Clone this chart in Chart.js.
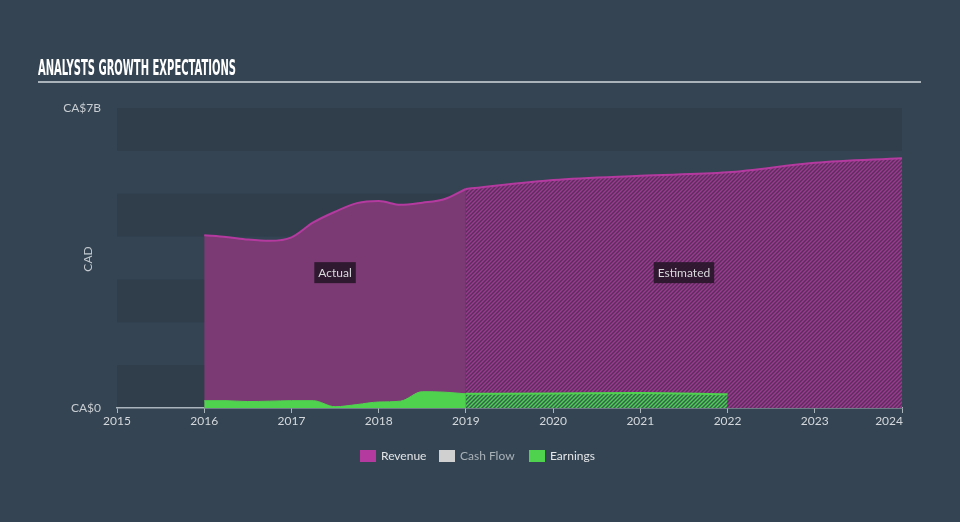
<!DOCTYPE html>
<html>
<head>
<meta charset="utf-8">
<script src="https://cdn.jsdelivr.net/npm/chart.js@4.4.0/dist/chart.umd.min.js"></script>
<style>
  html, body { margin: 0; padding: 0; background: #344452; }
  #wrap { position: relative; width: 960px; height: 522px; }
</style>
</head>
<body>
<div id="wrap"><canvas id="c"></canvas></div>
<script>
// values in CA$ billions
const revActualYears = [2016, 2016.25, 2016.5, 2016.75, 2017, 2017.25, 2017.5, 2017.75, 2018, 2018.25, 2018.5, 2018.75, 2019];
const revActual      = [4.03, 3.99, 3.93, 3.90, 3.98, 4.33, 4.58, 4.78, 4.83, 4.74, 4.79, 4.87, 5.11];
const revEstYears    = [2019, 2020, 2021, 2022, 2023, 2024];
const revEst         = [5.11, 5.32, 5.42, 5.50, 5.72, 5.83];

const earnActualYears = [2016, 2016.25, 2016.5, 2016.75, 2017, 2017.25, 2017.5, 2017.75, 2018, 2018.25, 2018.5, 2018.75, 2019];
const earnActual      = [0.17, 0.17, 0.15, 0.16, 0.17, 0.17, 0.03, 0.08, 0.14, 0.16, 0.38, 0.37, 0.33];
const earnEstYears    = [2019, 2020, 2021, 2022];
const earnEst         = [0.33, 0.34, 0.35, 0.32];

const cashFlow = [];

const xTicks = [2015, 2016, 2017, 2018, 2019, 2020, 2021, 2022, 2023, 2024];

const BG = '#344452';
const BAND = '#303e4c';
const REV_LINE = '#b43aa0';
const REV_FILL = '#7b3a73';
const EARN = '#4fd34f';
const FONT = 'Lato, "Open Sans", sans-serif';

function pts(xs, ys) { return xs.map((x, i) => ({ x: x, y: ys[i] })); }

// diagonal hatch used for the estimated part
function hatch(base, stripe) {
  const c = document.createElement('canvas');
  c.width = 4; c.height = 4;
  const g = c.getContext('2d');
  g.fillStyle = base; g.fillRect(0, 0, 4, 4);
  g.strokeStyle = stripe; g.lineWidth = 1.4;
  g.beginPath();
  g.moveTo(0, 4); g.lineTo(4, 0);
  g.moveTo(-1, 1); g.lineTo(1, -1);
  g.moveTo(3, 5); g.lineTo(5, 3);
  g.stroke();
  return g.createPattern(c, 'repeat');
}
const ctx0 = document.getElementById('c').getContext('2d');
const revHatch = hatch('#5c2e5d', '#9a3b8f');
const earnHatch = hatch('#35634a', '#4fcf55');

const decor = {
  id: 'decor',
  beforeDraw(chart) {
    const { ctx, chartArea: a, scales: { y } } = chart;
    ctx.save();
    ctx.fillStyle = BG;
    ctx.fillRect(0, 0, chart.width, chart.height);
    ctx.fillStyle = BAND;
    for (let v = 0; v < 7; v += 2) {
      const t = y.getPixelForValue(v + 1), b = y.getPixelForValue(v);
      ctx.fillRect(a.left, t, a.right - a.left, b - t);
    }
    ctx.restore();
  },
  afterDatasetsDraw(chart) {
    const { ctx, scales: { x, y } } = chart;
    ctx.save();
    ctx.font = '12px ' + FONT;
    ctx.textAlign = 'center';
    ctx.textBaseline = 'middle';
    [['Actual', 2017.5], ['Estimated', 2021.5]].forEach(([t, yr]) => {
      const cx = x.getPixelForValue(yr), cy = y.getPixelForValue(3.17);
      const w = ctx.measureText(t).width + 8;
      ctx.fillStyle = 'rgba(34,20,36,0.85)';
      ctx.fillRect(cx - w / 2, cy - 10, w, 21);
      ctx.fillStyle = '#d9d9dc';
      ctx.fillText(t, cx, cy + 1);
    });
    ctx.restore();
  },
  afterDraw(chart) {
    const ctx = chart.ctx;
    const x = chart.scales.x;
    ctx.save();
    // title
    ctx.font = 'bold 21px "DejaVu Sans Condensed", "DejaVu Sans"';
    const title = 'ANALYSTS GROWTH EXPECTATIONS';
    const tw = ctx.measureText(title).width;
    ctx.fillStyle = '#ffffff';
    ctx.textBaseline = 'alphabetic';
    ctx.translate(38, 75);
    ctx.scale(198 / tw, 1);
    ctx.fillText(title, 0, 0);
    ctx.restore();

    ctx.save();
    ctx.strokeStyle = '#aab2ba';
    ctx.lineWidth = 2;
    ctx.beginPath();
    ctx.moveTo(38, 82); ctx.lineTo(921, 82);
    ctx.stroke();

    // x tick labels, last one kept inside the axis
    ctx.font = '12px ' + FONT;
    ctx.fillStyle = '#d4d8dc';
    ctx.textBaseline = 'top';
    xTicks.forEach((v, i) => {
      ctx.textAlign = i === xTicks.length - 1 ? 'right' : 'center';
      ctx.fillText(String(v), x.getPixelForValue(v) + (i === xTicks.length - 1 ? 1 : 0), 415);
    });

    // y axis title
    ctx.translate(88, 259);
    ctx.rotate(-Math.PI / 2);
    ctx.fillStyle = '#c3c9cf';
    ctx.textAlign = 'center';
    ctx.textBaseline = 'middle';
    ctx.fillText('CAD', 0, 0);
    ctx.restore();

    // legend
    ctx.save();
    ctx.font = '12px ' + FONT;
    ctx.textBaseline = 'middle';
    const items = [
      ['Revenue', REV_LINE, '#e4e6e8', 360],
      ['Cash Flow', '#d0d0d0', '#a9b1b8', 439],
      ['Earnings', EARN, '#e4e6e8', 529]
    ];
    items.forEach(([t, c, tc, lx]) => {
      ctx.fillStyle = c;
      ctx.fillRect(lx, 450, 16, 12);
      ctx.fillStyle = tc;
      ctx.fillText(t, lx + 21, 456.5);
    });
    ctx.restore();
  }
};

new Chart(ctx0, {
  type: 'line',
  data: {
    datasets: [
      { label: 'Earnings', data: pts(earnActualYears, earnActual), borderColor: EARN, backgroundColor: EARN,
        borderWidth: 1, fill: 'origin', pointRadius: 0, cubicInterpolationMode: 'monotone', order: 0 },
      { label: 'Earnings est', data: pts(earnEstYears, earnEst), borderColor: EARN, backgroundColor: earnHatch,
        borderWidth: 2, fill: 'origin', pointRadius: 0, cubicInterpolationMode: 'monotone', order: 0 },
      { label: 'Cash Flow', data: cashFlow, borderColor: '#d0d0d0', backgroundColor: '#d0d0d0', pointRadius: 0, order: 1 },
      { label: 'Revenue', data: pts(revActualYears, revActual), borderColor: REV_LINE, backgroundColor: REV_FILL,
        borderWidth: 2, fill: 'origin', pointRadius: 0, cubicInterpolationMode: 'monotone', order: 2 },
      { label: 'Revenue est', data: pts(revEstYears, revEst), borderColor: REV_LINE, backgroundColor: revHatch,
        borderWidth: 2, fill: 'origin', pointRadius: 0, cubicInterpolationMode: 'monotone', order: 2 }
    ]
  },
  options: {
    responsive: true,
    maintainAspectRatio: false,
    animation: false,
    layout: { padding: { left: 0, top: 108, right: 58, bottom: 84 } },
    plugins: { legend: { display: false }, tooltip: { enabled: false } },
    scales: {
      x: {
        type: 'linear',
        min: 2015, max: 2024,
        afterFit(s) { s.height = 30; },
        afterBuildTicks(s) { s.ticks = xTicks.map(v => ({ value: v })); },
        grid: { display: true, drawOnChartArea: false, drawTicks: true, tickLength: 5, color: '#aab4bd' },
        border: { display: true, color: '#aab4bd', width: 1.5 },
        ticks: { color: 'rgba(0,0,0,0)', font: { size: 12, family: FONT }, padding: 2, maxRotation: 0,
          callback: v => String(v) }
      },
      y: {
        min: 0, max: 7,
        afterFit(s) { s.width = 117; },
        grid: { display: false },
        border: { display: false },
        ticks: { stepSize: 1, color: '#c8cdd2', font: { size: 12, family: FONT }, padding: 8,
          callback: v => v === 0 ? 'CA$0' : (v === 7 ? 'CA$7B' : '') }
      }
    }
  },
  plugins: [decor]
});
</script>
</body>
</html>
